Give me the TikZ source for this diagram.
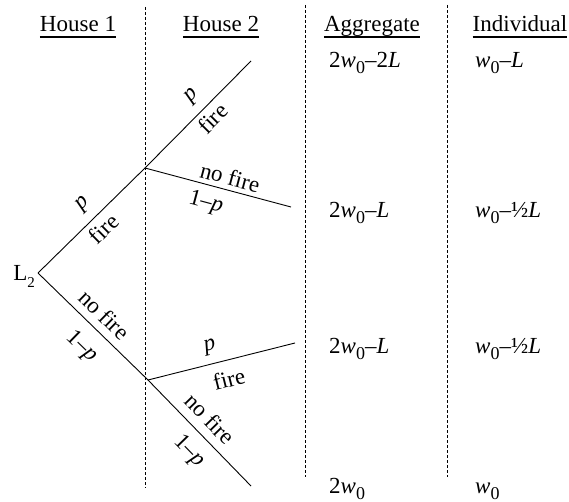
\documentclass[tikz,border=0pt]{standalone}
\usepackage{fontspec}
\setmainfont{Liberation Serif}
\newcommand{\zsub}{\raisebox{-6pt}{\fontsize{18}{20}\selectfont 0}}
\newcommand{\twosub}{\raisebox{-7pt}{\fontsize{15}{16}\selectfont 2}}
\begin{document}
\begin{tikzpicture}[x=1pt,y=1pt,
  every node/.style={font=\fontsize{23}{28}\selectfont},
  branch/.style={line width=0.9pt},
  sepline/.style={line width=0.9pt, dash pattern=on 3pt off 2pt},
  lbl/.style={inner sep=0pt, sloped},
  head/.style={inner sep=0pt, anchor=base},
  ul/.style={line width=1.6pt},
  outc/.style={inner sep=0pt, anchor=base west}]
\useasboundingbox (0,0) rectangle (569,-502);
% separators
\coordinate (s1t) at (145,-7);  \coordinate (s1b) at (145,-488);
\coordinate (s2t) at (305,-5);  \coordinate (s2b) at (305,-477);
\coordinate (s3t) at (447,-5);  \coordinate (s3b) at (447,-477);
\draw[sepline] (s1t) -- (s1b);
\draw[sepline] (s2t) -- (s2b);
\draw[sepline] (s3t) -- (s3b);
% headers
\node[head] (h1) at (78,-32) {House 1};
\node[head] (h2) at (221,-32) {House 2};
\node[head] (h3) at (372,-32) {Aggregate};
\node[head] (h4) at (520,-32) {Individual};
\foreach \h in {h1,h2,h3,h4}
  \draw[ul] ([yshift=-5pt]\h.base west) -- ([yshift=-5pt]\h.base east);
% tree
\coordinate (root) at (38,-273);
\coordinate (A) at (145,-168);
\coordinate (B) at (251,-61);
\coordinate (C) at (291,-207);
\coordinate (D) at (148,-380);
\coordinate (E) at (251,-486);
\coordinate (F) at (295,-343);
\node[anchor=base east, inner sep=0pt] (L2) at (35,-280) {L\twosub};
\draw[branch] (root) -- node[lbl,pos=0.54,above=9pt]{\textit{p}} node[lbl,pos=0.52,below=5.6pt]{fire} (A);
\draw[branch] (A) -- node[lbl,pos=0.56,above=8pt]{\textit{p}} node[lbl,pos=0.55,below=4.5pt]{fire} (B);
\draw[branch] (A) -- node[lbl,pos=0.56,above=4.5pt]{no fire} node[lbl,pos=0.45,below=8pt]{1–\textit{p}} (C);
\draw[branch] (root) -- node[lbl,pos=0.5,above=8pt]{no fire} node[lbl,pos=0.54,below=12pt]{1–\textit{p}} (D);
\draw[branch] (D) -- node[lbl,pos=0.48,above=8.7pt]{no fire} node[lbl,pos=0.54,below=10pt]{1–\textit{p}} (E);
\draw[branch] (D) -- node[lbl,pos=0.45,above=8pt]{\textit{p}} node[lbl,pos=0.52,below=10pt]{fire} (F);
% outcomes
\node[outc] (o1a) at (329,-68) {2\textit{w}\zsub–2\textit{L}};
\node[outc] (o1i) at (475,-68) {\textit{w}\zsub–\textit{L}};
\node[outc] (o2a) at (329,-218) {2\textit{w}\zsub–\textit{L}};
\node[outc] (o2i) at (475,-218) {\textit{w}\zsub–½\textit{L}};
\node[outc] (o3a) at (329,-353) {2\textit{w}\zsub–\textit{L}};
\node[outc] (o3i) at (475,-353) {\textit{w}\zsub–½\textit{L}};
\node[outc] (o4a) at (329,-493) {2\textit{w}\zsub};
\node[outc] (o4i) at (475,-493) {\textit{w}\zsub};
\end{tikzpicture}
\end{document}
